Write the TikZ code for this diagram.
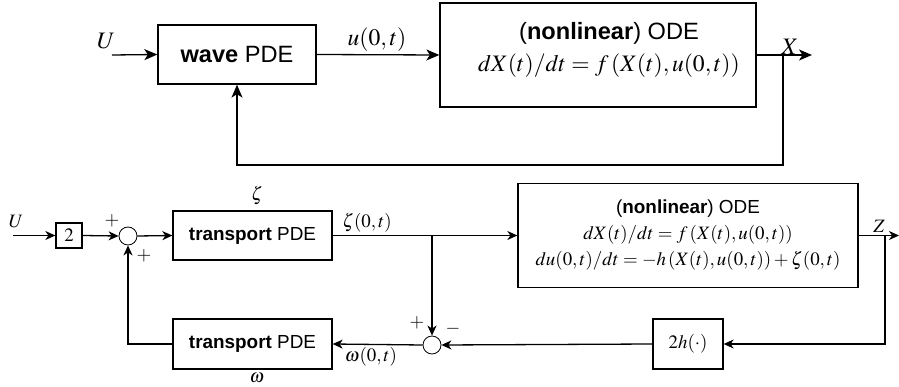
\documentclass[tikz,border=0pt]{standalone}
\usepackage{mathptmx}
\usepackage[no-math]{fontspec}
\setsansfont{Liberation Sans}
\usetikzlibrary{arrows.meta}
\newcommand{\bigsz}{\fontsize{23.6}{33}\selectfont}
\newcommand{\smsz}{\fontsize{18.9}{25}\selectfont}
\begin{document}
\begin{tikzpicture}[x=1pt,y=-1pt,line width=1.3pt,
  blk/.style={draw,rectangle,inner sep=0pt,align=center},
  bigblk/.style={blk,font=\bigsz\sffamily},
  smblk/.style={blk,font=\smsz\sffamily},
  sumc/.style={draw,circle,minimum size=18pt,inner sep=0pt,line width=0.8pt},
  lblbig/.style={inner sep=0pt,font=\bigsz},
  lblsm/.style={inner sep=0pt,font=\smsz},
  bigarr/.style={-{Stealth[length=13pt,width=11pt,inset=3.5pt]}},
  smarr/.style={-{Stealth[length=10pt,width=9pt,inset=3pt]}}]
\useasboundingbox (0,0) rectangle (899,387);
% ---------- top diagram ----------
\node[bigblk,minimum width=158pt,minimum height=59pt] (wave) at (237,54.5) {\textbf{wave} PDE};
\node[bigblk,minimum width=316pt,minimum height=104pt] (ode1) at (598,55) {};
\node[inner sep=0pt,font=\bigsz\sffamily] (ode1a) at (609,33) {(\textbf{nonlinear}) ODE};
\node[lblbig] (ode1b) at (609,66) {$dX(t)/dt=f\,(X(t),u(0,t))$};
\coordinate (uin1) at (112,55);
\coordinate (xout) at (812,55);
\coordinate (br1) at (783,55);
\node[lblbig] (Ulab1) at (106,41) {$U$};
\node[lblbig] (ulab) at (377,40) {$u(0,t)$};
\node[lblbig] (Xlab) at (790,47) {$X$};
\draw[bigarr] (uin1) -- (wave.west);
\draw[bigarr] (wave.east) -- (ode1.west);
\draw[bigarr] (ode1.east) -- (xout);
\draw[bigarr] (br1) -- (783,165) -- (237,165) -- (wave.south);
% ---------- bottom diagram ----------
\node[smblk,minimum width=26pt,minimum height=25pt,font=\smsz] (two) at (69,235.5) {$2$};
\node[sumc] (s1) at (128,236) {};
\node[smblk,minimum width=159pt,minimum height=49pt] (tr1) at (252.5,235.5) {\textbf{transport} PDE};
\node[smblk,minimum width=340pt,minimum height=104pt] (ode2) at (688,235.5)
  {(\textbf{nonlinear}) ODE\\[1pt]
   $dX(t)/dt=f\,(X(t),u(0,t))$\\[1pt]
   $du(0,t)/dt=-h\,(X(t),u(0,t))+\zeta(0,t)$};
\node[smblk,minimum width=159pt,minimum height=50pt] (tr2) at (252.5,344) {\textbf{transport} PDE};
\node[sumc] (s2) at (432,345) {};
\node[smblk,minimum width=70pt,minimum height=50pt,font=\smsz] (hh) at (688,344) {$2h(\cdot)$};
\coordinate (uin2) at (13,235.5);
\coordinate (br2) at (432,235.5);
\coordinate (br3) at (885,235.5);
\coordinate (zout) at (899,235.5);
\node[lblsm] (Ulab2) at (16,222) {$U$};
\node[lblsm] (p1) at (112,221) {$+$};
\node[lblsm] (p2) at (144,256) {$+$};
\node[lblsm] (p3) at (417,323) {$+$};
\node[lblsm] (m1) at (453,329) {$-$};
\node[lblsm] (zeta) at (257,195) {$\zeta$};
\node[lblsm] (zeta0) at (367,223) {$\zeta(0,t)$};
\node[lblsm] (om0) at (371,357) {$\omega(0,t)$};
\node[lblsm] (om) at (257,378) {$\omega$};
\node[lblsm] (Zlab) at (879,226) {$Z$};
\draw[smarr] (uin2) -- (two.west);
\draw[smarr] (two.east) -- (s1.west);
\draw[smarr] (s1.east) -- (tr1.west);
\draw[smarr] (tr1.east) -- (ode2.west);
\draw[smarr] (br2) -- (s2.north);
\draw[smarr] (ode2.east) -- (zout);
\draw[smarr] (br3) |- (hh.east);
\draw[smarr] (hh.west) -- (s2.east);
\draw[smarr] (s2.west) -- (tr2.east);
\draw[smarr] (tr2.west) -| (s1.south);
\end{tikzpicture}
\end{document}
